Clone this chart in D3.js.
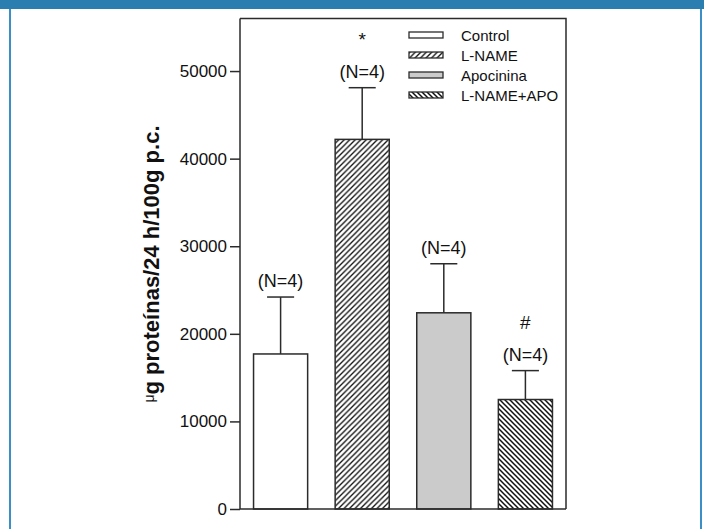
<!DOCTYPE html>
<html>
<head>
<meta charset="utf-8">
<script src="https://cdn.jsdelivr.net/npm/d3@7"></script>
<style>
  html, body { margin: 0; padding: 0; background: #fff; }
  svg { display: block; font-family: Arial, "Liberation Sans", sans-serif; }
</style>
</head>
<body>
<svg id="chart" width="704" height="529"></svg>
<script>
// Urinary protein excretion by group (mean and SEM)
const groups = ["Control", "L-NAME", "Apocinina", "L-NAME+APO"];
const means = [17700, 42200, 22400, 12500];
const sems = [6500, 5900, 5600, 3300];
const nLabels = ["(N=4)", "(N=4)", "(N=4)", "(N=4)"];
const sigMarks = ["", "*", "", "#"];
const yTicks = [0, 10000, 20000, 30000, 40000, 50000];
const fills = ["#ffffff", "url(#hatchUp)", "#cbcbcb", "url(#hatchDown)"];

const svg = d3.select("#chart");
const ink = "#2b2b2b";

// Frame around the figure
svg.append("rect").attr("x", 0).attr("y", 0).attr("width", 704).attr("height", 9).attr("fill", "#2a7fb0");
svg.append("rect").attr("x", 9).attr("y", 9).attr("width", 2).attr("height", 520).attr("fill", "#3a8fc6");
svg.append("rect").attr("x", 700).attr("y", 9).attr("width", 2).attr("height", 520).attr("fill", "#3a8fc6");

// Hatch patterns
const defs = svg.append("defs");
function hatch(id, d, s, w) {
  defs.append("pattern")
    .attr("id", id).attr("patternUnits", "userSpaceOnUse")
    .attr("width", s).attr("height", s)
    .append("path").attr("d", d)
    .attr("stroke", "#111").attr("stroke-width", w).attr("fill", "none");
}
hatch("hatchUp", "M0,5.5 L5.5,0 M-1,1 L1,-1 M4.5,6.5 L6.5,4.5", 5.5, 1.3);
hatch("hatchDown", "M0,0 L5,5 M-1,4 L1,6 M4,-1 L6,1", 5, 1.5);

const plotL = 240, plotR = 566, plotT = 18.5, plotB = 509;

const x = d3.scaleBand().domain(groups).range([plotL, plotR]).paddingInner(0.337).paddingOuter(0.166);
const y = d3.scaleLinear().domain([0, 56000]).range([plotB, plotT]);

// Plot box (top and right edges)
svg.append("path")
  .attr("d", `M${plotL},${plotT} H${plotR} V${plotB}`)
  .attr("fill", "none").attr("stroke", ink).attr("stroke-width", 1.5);

// Bars
svg.append("g").selectAll("rect").data(groups).join("rect")
  .attr("x", d => x(d))
  .attr("y", (d, i) => y(means[i]))
  .attr("width", x.bandwidth())
  .attr("height", (d, i) => y(0) - y(means[i]))
  .attr("fill", (d, i) => fills[i])
  .attr("stroke", ink).attr("stroke-width", 1.5);

// Upper error bars
const eb = svg.append("g").attr("stroke", ink).attr("stroke-width", 1.5);
groups.forEach((g, i) => {
  const cx = x(g) + x.bandwidth() / 2;
  const capW = x.bandwidth() / 2;
  eb.append("line").attr("x1", cx).attr("x2", cx).attr("y1", y(means[i])).attr("y2", y(means[i] + sems[i]));
  eb.append("line").attr("x1", cx - capW / 2).attr("x2", cx + capW / 2)
    .attr("y1", y(means[i] + sems[i])).attr("y2", y(means[i] + sems[i]));
});

// N labels and significance marks
groups.forEach((g, i) => {
  const cx = x(g) + x.bandwidth() / 2;
  const base = y(means[i] + sems[i]) - 10;
  svg.append("text").attr("x", cx).attr("y", base)
    .attr("text-anchor", "middle").attr("font-size", 18).attr("fill", "#111")
    .text(nLabels[i]);
  if (sigMarks[i]) {
    svg.append("text").attr("x", cx).attr("y", base - 32)
      .attr("text-anchor", "middle").attr("font-size", 19).attr("fill", "#111")
      .text(sigMarks[i]);
  }
});

// Y axis
const yAxis = svg.append("g").attr("transform", `translate(${plotL},0)`)
  .call(d3.axisLeft(y).tickValues(yTicks).tickSize(10).tickPadding(3).tickFormat(d3.format("d")));
yAxis.select(".domain").attr("stroke", ink).attr("stroke-width", 1.5).attr("d", `M0,${plotB}V${plotT}`);
yAxis.selectAll(".tick line").attr("stroke", ink).attr("stroke-width", 1.5);
yAxis.selectAll(".tick text").attr("font-size", 17).attr("fill", "#111")
  .attr("font-family", "Arial, 'Liberation Sans', sans-serif");

// X axis baseline
svg.append("line").attr("x1", plotL).attr("x2", plotR).attr("y1", plotB).attr("y2", plotB)
  .attr("stroke", ink).attr("stroke-width", 1.5);

// Y axis title
const title = svg.append("text")
  .attr("transform", `translate(159,264) rotate(-90)`)
  .attr("text-anchor", "middle").attr("font-weight", "bold").attr("font-size", 22).attr("fill", "#111");
title.append("tspan").attr("font-size", 14).attr("font-weight", "normal").attr("dy", -5).text("μ");
title.append("tspan").attr("dy", 5).text("g proteínas/24 h/100g p.c.");

// Legend
const legend = svg.append("g");
groups.forEach((g, i) => {
  const cy = 35 + i * 20;
  legend.append("rect").attr("x", 409).attr("y", cy - 3).attr("width", 34).attr("height", 6)
    .attr("fill", fills[i]).attr("stroke", ink).attr("stroke-width", 1.3);
  legend.append("text").attr("x", 461).attr("y", cy + 5.5)
    .attr("font-size", 15).attr("fill", "#111").text(g);
});
</script>
</body>
</html>
